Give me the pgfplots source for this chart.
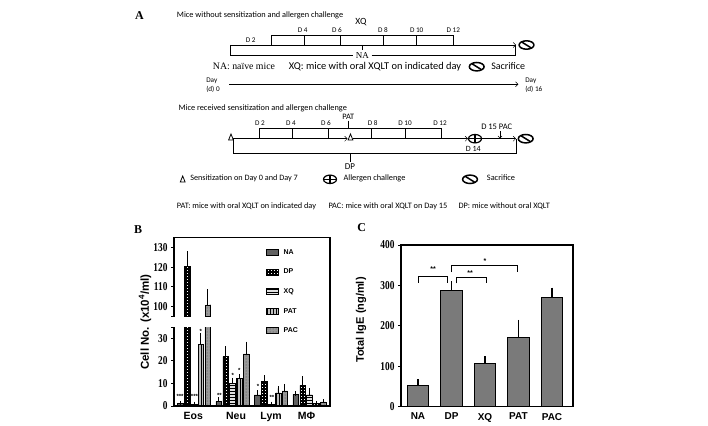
\documentclass[border=0pt]{standalone}
\usepackage{fontspec}
\setmainfont{Liberation Sans}
\newfontfamily\serif{Liberation Serif}
\newfontfamily\calfont{Carlito}
\newfontfamily\tickfont[FakeStretch=0.78]{Liberation Serif}
\usepackage{pgfplots}
\pgfplotsset{compat=1.18}
\usepackage{pgfplotstable}
\usetikzlibrary{patterns,arrows.meta}

\pgfdeclarepatternformonly{mychecker}{\pgfpoint{-0.1pt}{-0.1pt}}{\pgfpoint{3.1pt}{3.1pt}}{\pgfpoint{3pt}{3pt}}{%
  \pgfpathrectangle{\pgfpoint{0.7pt}{0.7pt}}{\pgfpoint{1.6pt}{1.6pt}}\pgfusepath{fill}}

% Panel B data: g = group (1 Eos, 2 Neu, 3 Lym, 4 MPhi), v = value, e = error
\pgfplotstableread{
g v e
1 1.0 0.3
2 2.0 0.8
3 4.9 1.2
4 5.1 0.5
}\NAtab
\pgfplotstableread{
g v e
1 120.5 6.5
2 21.9 3.7
3 10.8 1.9
4 9.1 3.1
}\DPtab
\pgfplotstableread{
g v e
1 0.8 0.2
2 10.0 1.5
3 0.8 0.2
4 4.9 2.1
}\XQtab
\pgfplotstableread{
g v e
1 27.2 4.0
2 12.2 0.8
3 5.8 2.0
4 1.0 0.2
}\PATtab
\pgfplotstableread{
g v e
1 100.9 6.8
2 23.1 4.5
3 6.7 2.1
4 1.8 0.3
}\PACtab
% Panel C data
\pgfplotstableread{
c v e
0 53 6
1 287 14
2 107 9
3 170 36
4 271 15
}\Ctab

\tikzset{
  NAs/.style={fill=black!62},
  DPs/.style={fill=black, postaction={pattern=mychecker, pattern color=white}},
  XQs/.style={fill=black!12, postaction={pattern=horizontal lines}},
  PATs/.style={fill=black!25, postaction={pattern=vertical lines}},
  PACs/.style={fill=black!40, postaction={pattern=dots, pattern color=black!75}},
  sacr/.pic={\draw[line width=1.5pt] (0,0) ellipse [x radius=7.4pt, y radius=4.2pt];
             \draw[line width=1.5pt] (-4.5pt,2.8pt) -- (4.5pt,-2.8pt);},
  allerg/.pic={\draw[line width=1.2pt] (0,0) ellipse [x radius=6.5pt, y radius=4.2pt];
             \draw[line width=1.2pt] (-6.5pt,0) -- (6.5pt,0) (0,-4.2pt) -- (0,4.2pt);},
  sens/.pic={\draw[line width=0.8pt] (-2.4pt,-3pt) -- (2.4pt,-3pt) -- (0,3pt) -- cycle;},
}

\pgfplotsset{
  barerr/.style={/pgfplots/error bars/y dir=plus, /pgfplots/error bars/y explicit,
    /pgfplots/error bars/error bar style={line width=0.9pt, black},
    /pgfplots/error bars/error mark options={line width=0.9pt, mark size=2.2pt, black}},
  Bcommon/.style={scale only axis, width=156pt, xmin=0.48, xmax=4.53,
    axis line style={draw=none},
    ytick pos=left, xtick pos=left,
    tick align=outside, major tick length=3pt,
    tick style={line width=1pt, black},
    /pgf/number format/assume math mode=true,
    yticklabel style={font=\fontsize{12}{12}\tickfont\bfseries\selectfont},
    bar width=0.148},
  Bbars/.style={ybar, bar shift=0pt, draw=black, line width=0.6pt, barerr},
}

\begin{document}
\begin{tikzpicture}
\useasboundingbox (0,0) rectangle (708pt,-425pt);

% ---------------- Panel A (schematic) ----------------
\begin{scope}[x=1pt,y=-1pt,line width=0.5pt]
\node[font=\serif\bfseries\fontsize{12}{12}\selectfont] at (139.5,15.5) {A};
\node[font=\serif\bfseries\fontsize{12}{12}\selectfont] at (138,230) {B};
\node[font=\serif\bfseries\fontsize{12}{12}\selectfont] at (361.7,228) {C};

\node[anchor=west,inner sep=0pt,font=\calfont\fontsize{8.3}{9}\selectfont] at (176.7,15) {Mice without sensitization and allergen challenge};
\node[font=\calfont\fontsize{9.5}{10}\selectfont] at (361,22.5) {XQ};
\foreach \x/\l in {302.7/D 4,337/D 6,383/D 8,416.7/D 10,453.3/D 12}
  \node[font=\calfont\fontsize{7.2}{8}\selectfont] at (\x,30) {\l};
\node[font=\calfont\fontsize{7.2}{8}\selectfont] at (250.7,40) {D 2};
\draw (271,45) -- (271,35.7) -- (453.3,35.7) -- (453.3,45);
\foreach \x in {304.3,340.7,383.3,416.7} \draw (\x,35.7) -- (\x,45);
\draw[-{Straight Barb[length=2.5pt,width=5pt]}] (230.7,45) -- (516,45);
\draw (230.7,45) -- (230.7,55) -- (353,55);
\draw (371.7,55) -- (515,55) -- (515,45);
\draw (362.3,45) -- (362.3,50);
\node[font=\serif\fontsize{9}{9}\selectfont] at (362.3,55.7) {NA};
\pic at (526.5,45) {sacr};

\node[anchor=west,inner sep=0pt,font=\serif\fontsize{9.8}{10}\selectfont] at (212.7,66.7) {NA: naïve mice};
\node[font=\calfont\fontsize{10.4}{11}\selectfont] at (375,66.7) {XQ: mice with oral XQLT on indicated day};
\pic at (476.7,66.7) {sacr};
\node[anchor=west,inner sep=0pt,font=\calfont\fontsize{10}{11}\selectfont] at (491,66.2) {Sacrifice};

\node[anchor=west,inner sep=0pt,font=\calfont\fontsize{7.2}{8}\selectfont] at (206,80.5) {Day};
\node[anchor=west,inner sep=0pt,font=\calfont\fontsize{7.2}{8}\selectfont] at (206,89) {(d) 0};
\draw[-{Straight Barb[length=2.5pt,width=5pt]}] (229.3,84.3) -- (518.3,84.3);
\node[anchor=west,inner sep=0pt,font=\calfont\fontsize{7.2}{8}\selectfont] at (525,80.5) {Day};
\node[anchor=west,inner sep=0pt,font=\calfont\fontsize{7.2}{8}\selectfont] at (525,89) {(d) 16};

\node[anchor=west,inner sep=0pt,font=\calfont\fontsize{8.3}{9}\selectfont] at (178.3,108.3) {Mice received sensitization and allergen challenge};
\node[font=\calfont\fontsize{8.3}{9}\selectfont] at (348.3,116.5) {PAT};
\draw (348.3,120.5) -- (348.3,128.7);
\foreach \x/\l in {260/D 2,291/D 4,326/D 6,372.7/D 8,405/D 10,440/D 12}
  \node[font=\calfont\fontsize{7.2}{8}\selectfont] at (\x,123.3) {\l};
\draw (259.3,138.7) -- (259.3,128.7) -- (441.7,128.7) -- (441.7,138.7);
\foreach \x in {292.3,328.3,371.7,405} \draw (\x,128.7) -- (\x,138.7);
\pic at (231,137) {sens};
\pic at (350.5,137) {sens};
\draw[-{Straight Barb[length=2.5pt,width=5pt]}] (233.3,138.7) -- (347.5,138.7);
\draw[-{Straight Barb[length=2.5pt,width=5pt]}] (353,138.7) -- (468,138.7);
\pic at (475,138.7) {allerg};
\draw[-{Straight Barb[length=2.5pt,width=5pt]}] (481.5,138.7) -- (516,138.7);
\pic at (525.7,138.7) {sacr};
\node[font=\calfont\fontsize{8}{8}\selectfont] at (473.3,149.3) {D 14};
\node[font=\calfont\fontsize{8.5}{9}\selectfont] at (496.7,126.5) {D 15 PAC};
\draw[-{Straight Barb[length=2pt,width=4pt]}] (500,131) -- (500,138.3);
\draw (233.3,138.7) -- (233.3,153.7) -- (516.7,153.7) -- (516.7,138.7);
\draw (350,153.7) -- (350,161.7);
\node[font=\calfont\fontsize{9}{9}\selectfont] at (350,166.5) {DP};

\pic at (182.7,179) {sens};
\node[anchor=west,inner sep=0pt,font=\calfont\fontsize{8.2}{9}\selectfont] at (190,178.3) {Sensitization on Day 0 and Day 7};
\pic at (330,179.3) {allerg};
\node[anchor=west,inner sep=0pt,font=\calfont\fontsize{8.3}{9}\selectfont] at (343.3,178.8) {Allergen challenge};
\pic at (470,179.3) {sacr};
\node[anchor=west,inner sep=0pt,font=\calfont\fontsize{8.3}{9}\selectfont] at (486.7,177.7) {Sacrifice};
\node[anchor=west,inner sep=0pt,font=\calfont\fontsize{8.3}{9}\selectfont] at (176.7,206) {PAT: mice with oral XQLT on indicated day};
\node[anchor=west,inner sep=0pt,font=\calfont\fontsize{8.3}{9}\selectfont] at (328.3,206) {PAC: mice with oral XQLT on Day 15};
\node[anchor=west,inner sep=0pt,font=\calfont\fontsize{8.3}{9}\selectfont] at (458.3,206) {DP: mice without oral XQLT};
\end{scope}

% ---------------- Panel B, lower part ----------------
\begin{axis}[Bcommon, at={(174pt,-406pt)}, anchor=south west, height=79pt,
  ymin=0, ymax=35,
  ytick={0,10,20,30}, extra y ticks={35}, extra y tick labels={},
  xtick={0.98,2.09,3.0,3.92}, xticklabels={Eos,Neu,Lym,MΦ},
  xtick style={draw=none},
  xticklabel style={font=\bfseries\fontsize{10.5}{11}\selectfont},
]
\addplot[Bbars, NAs]  table[x expr=\thisrow{g}-0.358, y=v, y error=e]{\NAtab};
\addplot[Bbars, DPs]  table[x expr=\thisrow{g}-0.179, y=v, y error=e]{\DPtab};
\addplot[Bbars, XQs]  table[x expr=\thisrow{g},       y=v, y error=e]{\XQtab};
\addplot[Bbars, PATs] table[x expr=\thisrow{g}+0.179, y=v, y error=e]{\PATtab};
\addplot[Bbars, PACs] table[x expr=\thisrow{g}+0.358, y=v, y error=e]{\PACtab};
\begin{scope}[font=\bfseries\fontsize{6}{6}\selectfont, inner sep=0pt]
\node[anchor=base] at (axis cs:0.636,3.4) {***};
\node[anchor=base] at (axis cs:1.01,3.4) {***};
\node[anchor=base] at (axis cs:1.174,32.2) {*};
\node[anchor=base] at (axis cs:1.657,3.7) {**};
\node[anchor=base] at (axis cs:2.005,12.5) {*};
\node[anchor=base] at (axis cs:2.176,14.9) {*};
\node[anchor=base] at (axis cs:2.66,7.7) {*};
\node[anchor=base] at (axis cs:3.02,2.9) {**};
\end{scope}
\end{axis}

% ---------------- Panel B, upper part ----------------
\begin{axis}[Bcommon, at={(174pt,-316.6pt)}, anchor=south west, height=79.2pt,
  ymin=95, ymax=135,
  xtick=\empty, ytick={100,110,120,130}, extra y ticks={95}, extra y tick labels={},
  legend image code/.code={\draw[#1] (0pt,-3pt) rectangle (12pt,3pt);},
  legend style={at={(axis description cs:0.59,0.853)}, anchor=north west,
    draw=none, fill=none, inner sep=0pt, outer sep=0pt, row sep=13pt, column sep=5pt,
    font=\bfseries\fontsize{7}{7}\selectfont,
    nodes={inner sep=0pt, text height=5pt, text depth=1pt}},
  legend cell align=left,
]
\addlegendimage{draw=black, line width=0.6pt, NAs}
\addlegendimage{draw=black, line width=0.6pt, DPs}
\addlegendimage{draw=black, line width=0.6pt, XQs}
\addlegendimage{draw=black, line width=0.6pt, PATs}
\addlegendimage{draw=black, line width=0.6pt, PACs}
\addplot[Bbars, DPs, forget plot, y filter/.expression={y<95 ? nan : y}]
  table[x expr=\thisrow{g}-0.179, y=v, y error=e]{\DPtab};
\addplot[Bbars, PACs, forget plot, y filter/.expression={y<95 ? nan : y}]
  table[x expr=\thisrow{g}+0.358, y=v, y error=e]{\PACtab};
\legend{NA,DP,XQ,PAT,PAC}
\end{axis}
% frame of the broken axis
\draw[line width=1.1pt, line join=miter]
  (174pt,-327pt) -- (174pt,-406pt) -- (330pt,-406pt) -- (330pt,-237.4pt)
  -- (174pt,-237.4pt) -- (174pt,-316.6pt);
\node[rotate=90, font=\bfseries\fontsize{11.5}{12}\selectfont] at (145pt,-322pt) {Cell No. (x10\textsuperscript{4}/ml)};

% ---------------- Panel C ----------------
\begin{axis}[at={(401pt,-406.5pt)}, anchor=south west, scale only axis,
  width=172pt, height=161.5pt,
  xmin=-0.507, xmax=4.627, ymin=0, ymax=400,
  axis line style={line width=1.1pt},
  ytick={0,100,200,300,400}, ytick pos=left,
  xtick={0,1,2,3,4}, xticklabels={NA,DP,XQ,PAT,PAC},
  tick align=outside, major tick length=3pt,
  tick style={line width=1pt, black}, xtick style={draw=none},
  /pgf/number format/assume math mode=true,
  yticklabel style={font=\fontsize{12}{12}\tickfont\bfseries\selectfont},
  xticklabel style={font=\bfseries\fontsize{10}{11}\selectfont},
  bar width=0.64,
]
\addplot[ybar, bar shift=0pt, fill=black!52, draw=black, line width=0.8pt,
  error bars/.cd, y dir=plus, y explicit,
  error bar style={line width=1.1pt, black},
  error mark options={line width=1.1pt, mark size=3.5pt, black}]
  table[x=c,y=v,y error=e]{\Ctab};
\draw[line width=0.8pt] (axis cs:0,307) -- (axis cs:0,322) -- (axis cs:0.88,322) -- (axis cs:0.88,307);
\draw[line width=0.8pt] (axis cs:1.16,305) -- (axis cs:1.16,319.5) -- (axis cs:2.03,319.5) -- (axis cs:2.03,305);
\draw[line width=0.8pt] (axis cs:1.0,333) -- (axis cs:1.0,349) -- (axis cs:2.965,349) -- (axis cs:2.965,333);
\begin{scope}[font=\bfseries\fontsize{7}{7}\selectfont, inner sep=0pt]
\node[anchor=base] at (axis cs:0.448,335.6) {**};
\node[anchor=base] at (axis cs:1.553,325.7) {**};
\node[anchor=base] at (axis cs:2.0,353) {*};
\end{scope}
\end{axis}
\node[rotate=90, font=\bfseries\fontsize{11}{11}\selectfont] at (361pt,-320pt) {Total IgE (ng/ml)};
\end{tikzpicture}
\end{document}
